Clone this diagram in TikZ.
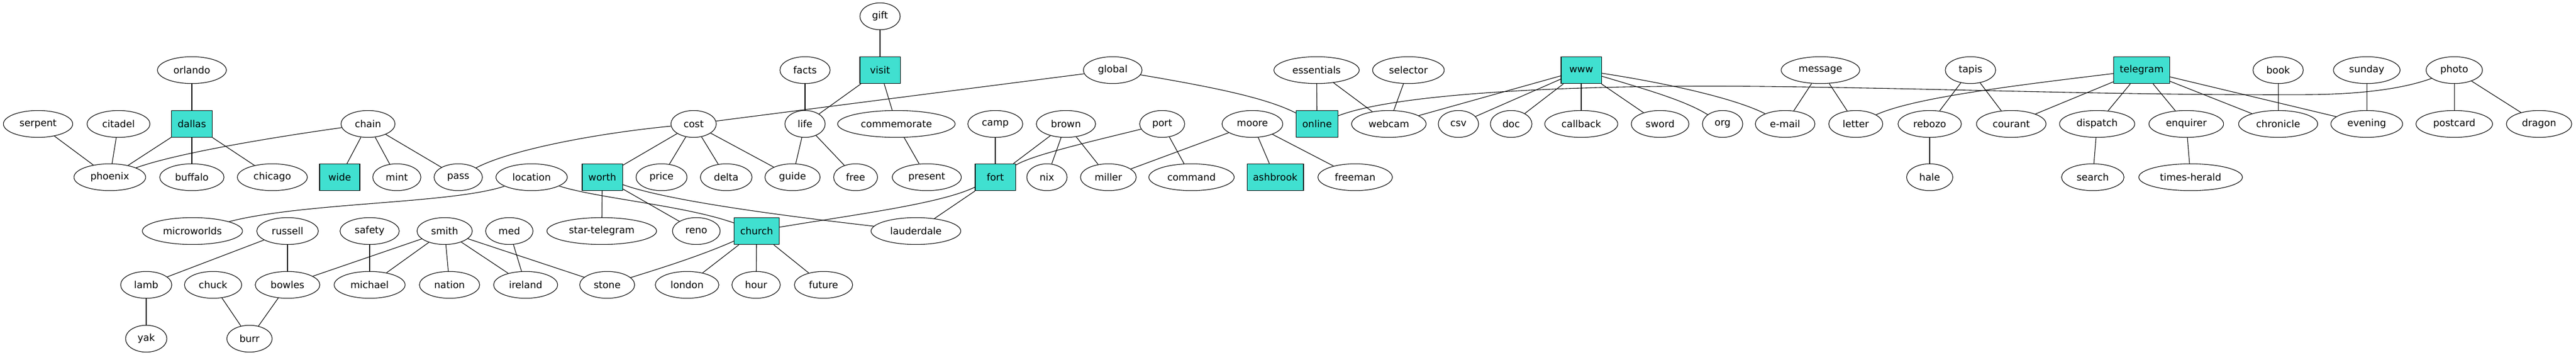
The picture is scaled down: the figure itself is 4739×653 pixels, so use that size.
\documentclass[tikz,border=0pt]{standalone}
\usepackage{fontspec}
\setmainfont{DejaVu Sans}
\usetikzlibrary{shapes.geometric}
\definecolor{turq}{HTML}{40E0D0}
\begin{document}
\begin{tikzpicture}[x=0.729pt,y=-0.729pt,
  every node/.style={font=\fontsize{13}{15}\selectfont, line width=0.8pt},
  ell/.style={draw, ellipse, inner xsep=8pt, inner ysep=4pt, minimum width=54pt, minimum height=36pt},
  bx/.style={draw, rectangle, fill=turq, inner xsep=8pt, inner ysep=4pt, minimum width=54pt, minimum height=36pt},
  conn/.style={line width=0.8pt}]
\useasboundingbox (0,0) rectangle (4739,653);
% row 0
\node[ell] (gift) at (1619,30) {gift};
% row 1
\node[ell] (orlando) at (353,129) {orlando};
\node[ell] (facts) at (1481,129) {facts};
\node[bx] (visit) at (1619,129) {visit};
\node[ell] (global) at (2047,129) {global};
\node[ell] (essentials) at (2422,129) {essentials};
\node[ell] (selector) at (2591,129) {selector};
\node[bx] (www) at (2909,129) {www};
\node[ell] (message) at (3349,129) {message};
\node[ell] (tapis) at (3625,129) {tapis};
\node[bx] (telegram) at (3940,129) {telegram};
\node[ell] (book) at (4191,129) {book};
\node[ell] (sunday) at (4354,129) {sunday};
\node[ell] (photo) at (4515,129) {photo};
% row 2
\node[ell] (serpent) at (70,228) {serpent};
\node[ell] (citadel) at (218,228) {citadel};
\node[bx] (dallas) at (353,228) {dallas};
\node[ell] (chain) at (677,228) {chain};
\node[ell] (cost) at (1276,228) {cost};
\node[ell] (life) at (1481,228) {life};
\node[ell] (commemorate) at (1649,228) {commemorate};
\node[ell] (camp) at (1831,228) {camp};
\node[ell] (brown) at (1961,228) {brown};
\node[ell] (port) at (2138,228) {port};
\node[ell] (moore) at (2304,228) {moore};
\node[bx] (online) at (2423,228) {online};
\node[ell] (webcam) at (2555,228) {webcam};
\node[ell] (csv) at (2683,228) {csv};
\node[ell] (doc) at (2780,228) {doc};
\node[ell] (callback) at (2909,228) {callback};
\node[ell] (sword) at (3054,228) {sword};
\node[ell] (org) at (3169,228) {org};
\node[ell] (email) at (3284,228) {e-mail};
\node[ell] (letter) at (3414,228) {letter};
\node[ell] (rebozo) at (3550,228) {rebozo};
\node[ell] (courant) at (3700,228) {courant};
\node[ell] (dispatch) at (3858,228) {dispatch};
\node[ell] (enquirer) at (4022,228) {enquirer};
\node[ell] (chronicle) at (4191,228) {chronicle};
\node[ell] (evening) at (4354,228) {evening};
\node[ell] (postcard) at (4515,228) {postcard};
\node[ell] (dragon) at (4671,228) {dragon};
% row 3
\node[ell] (phoenix) at (202,326) {phoenix};
\node[ell] (buffalo) at (353,326) {buffalo};
\node[ell] (chicago) at (501,326) {chicago};
\node[bx] (wide) at (625,326) {wide};
\node[ell] (mint) at (730,326) {mint};
\node[ell] (pass) at (843,326) {pass};
\node[ell] (location) at (978,326) {location};
\node[bx] (worth) at (1108,326) {worth};
\node[ell] (price) at (1217,326) {price};
\node[ell] (delta) at (1336,326) {delta};
\node[ell] (guide) at (1458,326) {guide};
\node[ell] (free) at (1574,326) {free};
\node[ell] (present) at (1705,326) {present};
\node[bx] (fort) at (1831,326) {fort};
\node[ell] (nix) at (1926,326) {nix};
\node[ell] (miller) at (2039,326) {miller};
\node[ell] (command) at (2192,326) {command};
\node[bx] (ashbrook) at (2346,326) {ashbrook};
\node[ell] (freeman) at (2493,326) {freeman};
\node[ell] (hale) at (3550,326) {hale};
\node[ell] (search) at (3850,326) {search};
\node[ell] (timesherald) at (4030,326) {times-herald};
% row 4
\node[ell] (microworlds) at (354,425) {microworlds};
\node[ell] (russell) at (529,425) {russell};
\node[ell] (safety) at (680,425) {safety};
\node[ell] (smith) at (818,425) {smith};
\node[ell] (med) at (937,425) {med};
\node[ell] (startelegram) at (1107,425) {star-telegram};
\node[ell] (reno) at (1281,425) {reno};
\node[bx] (church) at (1392,425) {church};
\node[ell] (lauderdale) at (1685,425) {lauderdale};
% row 5
\node[ell] (lamb) at (269,524) {lamb};
\node[ell] (chuck) at (392,524) {chuck};
\node[ell] (bowles) at (529,524) {bowles};
\node[ell] (michael) at (680,524) {michael};
\node[ell] (nation) at (827,524) {nation};
\node[ell] (ireland) at (967,524) {ireland};
\node[ell] (stone) at (1117,524) {stone};
\node[ell] (london) at (1264,524) {london};
\node[ell] (hour) at (1391,524) {hour};
\node[ell] (future) at (1515,524) {future};
% row 6
\node[ell] (yak) at (269,623) {yak};
\node[ell] (burr) at (459,623) {burr};

% straight connectors
\foreach \a/\b in {orlando/dallas, dallas/phoenix, dallas/buffalo, dallas/chicago,
  serpent/phoenix, citadel/phoenix, chain/wide, chain/mint, chain/pass,
  russell/lamb, russell/bowles, lamb/yak, chuck/burr, bowles/burr,
  smith/bowles, smith/michael, smith/nation, smith/ireland, smith/stone,
  safety/michael, med/ireland, worth/startelegram, worth/reno, worth/cost,
  cost/price, cost/delta, cost/guide, cost/global, gift/visit, visit/life,
  visit/commemorate, facts/life, commemorate/present, life/guide, life/free,
  church/london, church/hour, church/future, fort/lauderdale, camp/fort,
  brown/fort, brown/nix, brown/miller, port/command, moore/miller,
  moore/ashbrook, moore/freeman, essentials/online, essentials/webcam,
  selector/webcam, www/webcam, www/csv, www/doc, www/callback, www/sword,
  message/email, message/letter, tapis/rebozo, tapis/courant, rebozo/hale,
  telegram/courant, telegram/dispatch, telegram/enquirer, telegram/chronicle,
  telegram/evening, dispatch/search, enquirer/timesherald, book/chronicle,
  sunday/evening, photo/postcard, photo/dragon}
  \draw[conn] (\a) -- (\b);

% curved connectors
\draw[conn] (chain) .. controls (520,250) and (330,280) .. (phoenix);
\draw[conn] (pass) .. controls (940,275) and (1100,245) .. (cost);
\draw[conn] (global) .. controls (2230,160) and (2330,180) .. (online);
\draw[conn] (location) .. controls (830,375) and (560,372) .. (microworlds);
\draw[conn] (location) .. controls (1100,365) and (1260,378) .. (church);
\draw[conn] (worth) .. controls (1230,370) and (1450,398) .. (lauderdale);
\draw[conn] (fort) .. controls (1730,375) and (1570,395) .. (church);
\draw[conn] (church) .. controls (1290,470) and (1220,492) .. (stone);
\draw[conn] (online) .. controls (2560,175) and (2850,155) .. (3242,159)
  .. controls (3600,163) and (3900,176) .. (4250,174)
  .. controls (4360,173) and (4430,160) .. (photo);
\draw[conn] (telegram) .. controls (3700,158) and (3520,180) .. (letter);
\draw[conn] (port) .. controls (2000,262) and (1900,285) .. (fort);
\draw[conn] (www) .. controls (3060,152) and (3190,180) .. (email);
\draw[conn] (www) .. controls (3030,165) and (3100,185) .. (org);
\end{tikzpicture}
\end{document}
